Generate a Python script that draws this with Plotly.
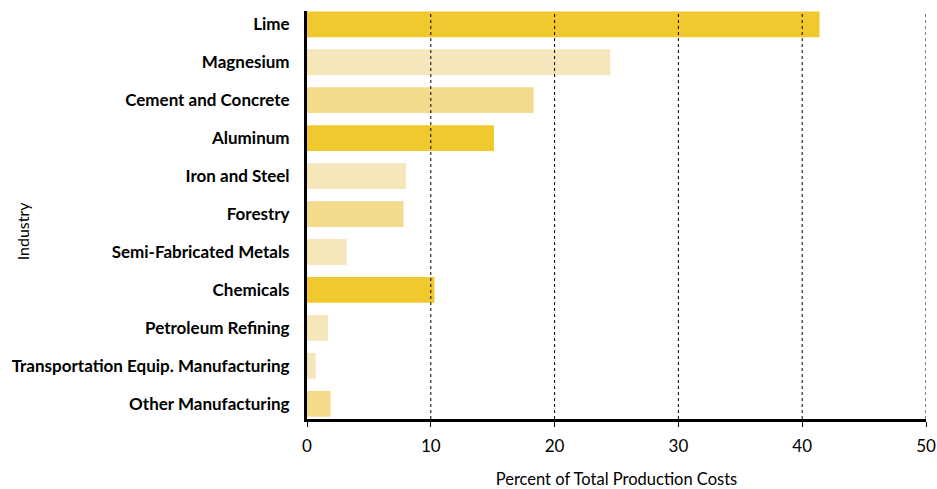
import plotly.graph_objects as go

industries = ["Lime", "Magnesium", "Cement and Concrete", "Aluminum", "Iron and Steel",
              "Forestry", "Semi-Fabricated Metals", "Chemicals", "Petroleum Refining",
              "Transportation Equip. Manufacturing", "Other Manufacturing"]
percent = [41.4, 24.5, 18.3, 15.1, 8.0, 7.8, 3.2, 10.3, 1.7, 0.7, 1.9]
shade = ["dark", "light", "medium", "dark", "light", "medium", "light", "dark", "light", "light", "medium"]
x_ticks = [0, 10, 20, 30, 40, 50]

palette = {"dark": "#F0C92E", "medium": "#F3DA8C", "light": "#F6E6BC"}
colors = [palette[s] for s in shade]

fig = go.Figure()
fig.add_trace(go.Bar(
    y=industries, x=percent, orientation="h",
    marker=dict(color=colors, line=dict(width=0)),
    width=0.68, showlegend=False, hoverinfo="x+y",
))

for t in x_ticks[1:]:
    fig.add_shape(type="line", xref="x", yref="paper", x0=t, x1=t, y0=0, y1=1,
                  line=dict(color="black", width=1, dash="3px,3px"), layer="above")

fig.update_layout(
    width=937, height=489,
    margin=dict(l=307, r=11, t=11, b=70, autoexpand=False),
    plot_bgcolor="white", paper_bgcolor="white",
    font=dict(family="Lato, sans-serif", color="black"),
    bargap=0.3,
)
fig.update_xaxes(
    range=[0, 50], tickvals=x_ticks, showgrid=False, zeroline=False,
    showline=True, linecolor="black", linewidth=3, automargin=False,
    ticks="outside", ticklen=5, tickcolor="black", tickwidth=1,
    tickfont=dict(size=17, family="Lato, sans-serif"),
    ticklabelstandoff=5,
    title=dict(text="Percent of Total Production Costs", font=dict(size=16.5), standoff=22),
)
fig.update_yaxes(
    categoryorder="array", categoryarray=industries,
    range=[10.4, -0.35], showgrid=False, zeroline=False, automargin=False,
    showline=True, linecolor="black", linewidth=3, ticks="",
    tickfont=dict(size=17, family="Lato, sans-serif", weight="bold"),
    ticklabelstandoff=11,
)
fig.add_annotation(text="Industry", xref="paper", yref="paper", x=-307/619 + 22/619, y=0.46,
                   textangle=-90, showarrow=False, font=dict(size=16), xanchor="center", yanchor="middle")

fig.write_html("out.html")
